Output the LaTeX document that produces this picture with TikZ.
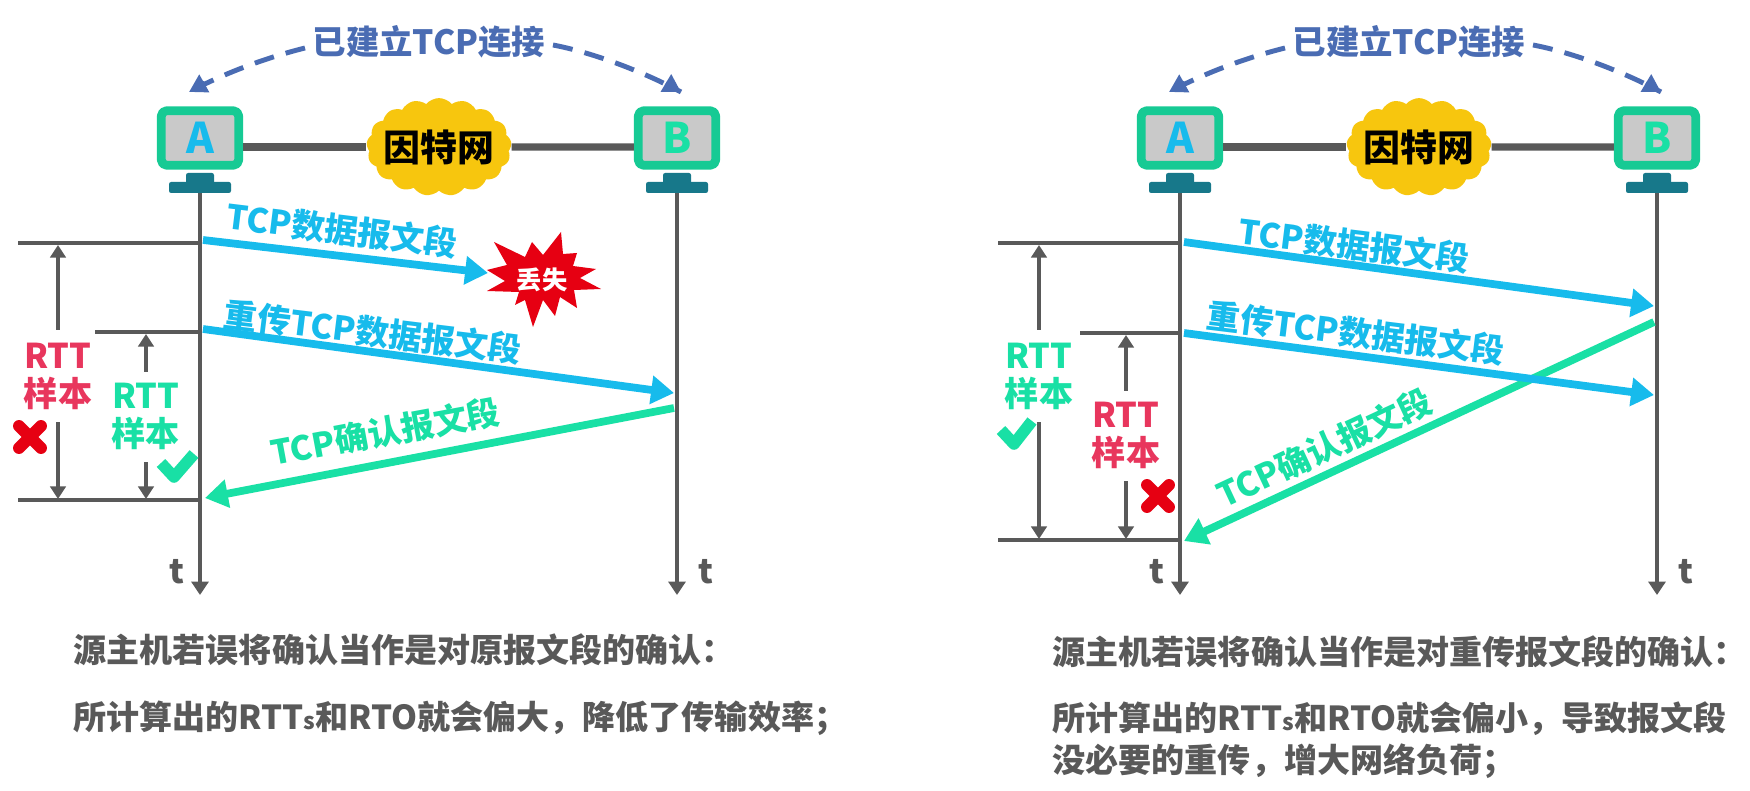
\documentclass[tikz,border=0pt]{standalone}
\usepackage{fontspec}
\setmainfont{Noto Sans CJK SC}
\usetikzlibrary{arrows.meta}
\usetikzlibrary{shapes.symbols}

\definecolor{databeam}{HTML}{17BBEC}
\definecolor{ackbeam}{HTML}{19E0A5}
\definecolor{badtext}{HTML}{E8365D}
\definecolor{badmark}{HTML}{E60012}
\definecolor{axisgray}{HTML}{595959}
\definecolor{linkblue}{HTML}{4A6CB3}
\definecolor{standteal}{HTML}{17788A}
\definecolor{screengray}{HTML}{C9C9C9}
\definecolor{cloudyellow}{HTML}{F7C60E}

\tikzset{
  msg/.style = {font = \bfseries\fontsize{9.5}{11}\selectfont, inner sep = 0},
  datamsg/.style = {msg, text = databeam},
  ackmsg/.style = {msg, text = ackbeam},
  data/.style = {line width = 2.2pt, databeam, -{Triangle[length = 6.5pt, width = 7.8pt]}},
  ack/.style = {line width = 2.2pt, ackbeam, -{Triangle[length = 6.5pt, width = 7.8pt]}},
  tick/.style = {line width = 1pt, axisgray},
  span/.style = {line width = 1pt, axisgray, -{Triangle[length = 3.6pt, width = 4.4pt]}},
  lifeline/.style = {line width = 1.2pt, axisgray, -{Triangle[length = 3.8pt, width = 4.8pt]}},
  linkdash/.style = {line width = 1.4pt, linkblue, dash pattern = on 5.7pt off 3.5pt},
  linktip/.style = {line width = 1.4pt, linkblue, -{Triangle[length = 5pt, width = 5.5pt]}},
  monitor/.style = {draw = ackbeam!90!black, fill = screengray, line width = 2.5pt,
    rounded corners = 1.5pt, minimum width = 22pt, minimum height = 15.5pt,
    inner sep = 0, font = \bfseries\fontsize{12}{12}\selectfont},
  rttlabel/.style = {font = \bfseries\fontsize{9.7}{10.8}\selectfont, align = center, inner sep = 0},
  note/.style = {font = \bfseries\fontsize{9.4}{12}\selectfont, text = axisgray, align = left,
    anchor = west, inner sep = 0},
  timelabel/.style = {font = \bfseries\fontsize{9.5}{10}\selectfont, text = axisgray, inner sep = 0}
}

\begin{document}
\begin{tikzpicture}[x = .01cm, y = -.01cm, line join = round]
  \useasboundingbox (0, 0) rectangle (1750, 791);
  \fill[white] (0, 0) rectangle (1750, 791);

  % what both panels share
  \foreach \dx/\p in {0/L, 980/R} {
    \node[msg, text = linkblue] (title\p) at (429 + \dx, 42) {已建立TCP连接};
    \coordinate (arcA\p) at (189 + \dx, 92);
    \coordinate (arcB\p) at (681 + \dx, 92);
    \draw[linkdash] (305 + \dx, 48) .. controls (265 + \dx, 58) and (225 + \dx, 73) .. (arcA\p);
    \draw[linkdash] (553 + \dx, 45) .. controls (590 + \dx, 52) and (640 + \dx, 70) .. (arcB\p);
    \draw[linktip] (205 + \dx, 83) -- (arcA\p);
    \draw[linktip] (666 + \dx, 83) -- (arcB\p);

    \node[draw = none, fill = cloudyellow, cloud, cloud puffs = 17, cloud puff arc = 100,
    aspect = 1.6, inner xsep = -1.7pt, inner ysep = -1.7pt,
    font = \bfseries\fontsize{10.5}{11}\selectfont] (net\p) at (439 + \dx, 147) {因特网};

    \foreach \hx/\h/\c in {200/A/databeam, 677/B/ackbeam} {
      \node[monitor, text = \c] (\h\p) at (\hx + \dx, 138) {\h};
      \fill[standteal, rounded corners = .6pt] (\hx + \dx - 14, 173) rectangle (\hx + \dx + 14, 184);
      \fill[standteal, rounded corners = .6pt] (\hx + \dx - 31, 182) rectangle (\hx + \dx + 31, 193);
      \coordinate (foot\h\p) at (\hx + \dx, 193);
      \coordinate (end\h\p) at (\hx + \dx, 595);
      \draw[lifeline] (foot\h\p) -- (end\h\p);
    }
    \draw[line width = 2pt, axisgray] (A\p.east |- net\p) -- (net\p.west);
    \draw[line width = 2pt, axisgray] (net\p.east) -- (B\p.west |- net\p);

    \node[timelabel] (tA\p) at (177 + \dx, 572) {t};
    \node[timelabel] (tB\p) at (706 + \dx, 572) {t};
  }

  % left panel: the lost segment
  \coordinate (sendL) at (200, 243);
  \coordinate (resendL) at (200, 332);
  \coordinate (ackL) at (200, 500);
  \coordinate (lostL) at (488, 273);
  \coordinate (recvL) at (674, 393);
  \coordinate (ackoutL) at (674, 408);

  \draw[tick] (18, 243) -- (sendL);
  \draw[tick] (95, 332) -- (resendL);
  \draw[tick] (18, 500) -- (ackL);

  \fill[badmark] (494,242) -- (525,257) -- (532,242) -- (543,255) -- (561,232) -- (563,254)
  -- (577,253) -- (573,266) -- (596,269) -- (580,278) -- (601,289) -- (574,290) -- (577,308)
  -- (560,297) -- (555,316) -- (543,300) -- (533,327) -- (525,300) -- (515,305) -- (519,292)
  -- (487,291) -- (505,281) -- (487,270) -- (507,265) -- cycle;
  \node[font = \bfseries\fontsize{7.2}{8}\selectfont, text = white, inner sep = 0] (lost) at (542, 280) {丢失};

  \draw[data] (203, 240) -- (lostL);
  \draw[data] (203, 329) -- (recvL);
  \draw[ack] (ackoutL) -- (205, 498);

  \node[datamsg, rotate = -7] (segL) at (342, 230) {TCP数据报文段};
  \node[datamsg, rotate = -7] (reL) at (373, 332) {重传TCP数据报文段};
  \node[ackmsg, rotate = 10.5] (confL) at (385, 432) {TCP确认报文段};

  \node[rttlabel, text = badtext] (rttWrongL) at (58, 376) {RTT\\样本};
  \node[rttlabel, text = ackbeam] (rttRightL) at (146, 416) {RTT\\样本};
  \draw[span] (rttWrongL.north) ++(0, -12) -- (58, 245);
  \draw[span] (rttWrongL.south) ++(0, 12) -- (58, 499);
  \draw[span] (rttRightL.north) ++(0, -10) -- (146, 334);
  \draw[span] (rttRightL.south) ++(0, 12) -- (146, 499);

  \draw[badmark, line width = 3.4pt, line cap = round] (19, 426) -- (41, 448) (41, 426) -- (19, 448);
  \draw[ackbeam, line width = 3.3pt] (161, 463) -- (174, 477) -- (194, 454);

  % right panel: the delayed segment
  \coordinate (sendR) at (1180, 243);
  \coordinate (resendR) at (1180, 333);
  \coordinate (ackR) at (1180, 540);
  \coordinate (recvR) at (1654, 306);
  \coordinate (againR) at (1654, 395);
  \coordinate (ackoutR) at (1654, 322);

  \draw[tick] (998, 243) -- (sendR);
  \draw[tick] (1080, 333) -- (resendR);
  \draw[tick] (998, 540) -- (ackR);

  \draw[ack] (ackoutR) -- (1184, 541);
  \draw[data] (1184, 242) -- (recvR);
  \draw[data] (1184, 333) -- (againR);

  \node[datamsg, rotate = -7] (segR) at (1354, 245) {TCP数据报文段};
  \node[datamsg, rotate = -7] (reR) at (1356, 333) {重传TCP数据报文段};
  \node[ackmsg, rotate = 25] (confR) at (1324, 448) {TCP确认报文段};

  \node[rttlabel, text = ackbeam] (rttRightR) at (1039, 376) {RTT\\样本};
  \node[rttlabel, text = badtext] (rttWrongR) at (1126, 435) {RTT\\样本};
  \draw[span] (rttRightR.north) ++(0, -12) -- (1039, 245);
  \draw[span] (rttRightR.south) ++(0, 12) -- (1039, 539);
  \draw[span] (rttWrongR.north) ++(0, -10) -- (1126, 335);
  \draw[span] (rttWrongR.south) ++(0, 12) -- (1126, 539);

  \draw[badmark, line width = 3.4pt, line cap = round] (1147, 485) -- (1169, 507) (1169, 485) -- (1147, 507);
  \draw[ackbeam, line width = 3.3pt] (1001, 430) -- (1014, 444) -- (1032, 421);

  % the two captions
  \node[note] (capL1) at (73, 650) {源主机若误将确认当作是对原报文段的确认：};
  \node[note] (capL2) at (73, 718) {所计算出的RTT{\fontsize{6.5}{7}\selectfont s}和RTO就会偏大，降低了传输效率；};
  \node[note] (capR1) at (1052, 652) {源主机若误将确认当作是对重传报文段的确认：};
  \node[note] (capR2) at (1052, 740) {所计算出的RTT{\fontsize{6.5}{7}\selectfont s}和RTO就会偏小，导致报文段\\没必要的重传，增大网络负荷；};
\end{tikzpicture}
\end{document}
